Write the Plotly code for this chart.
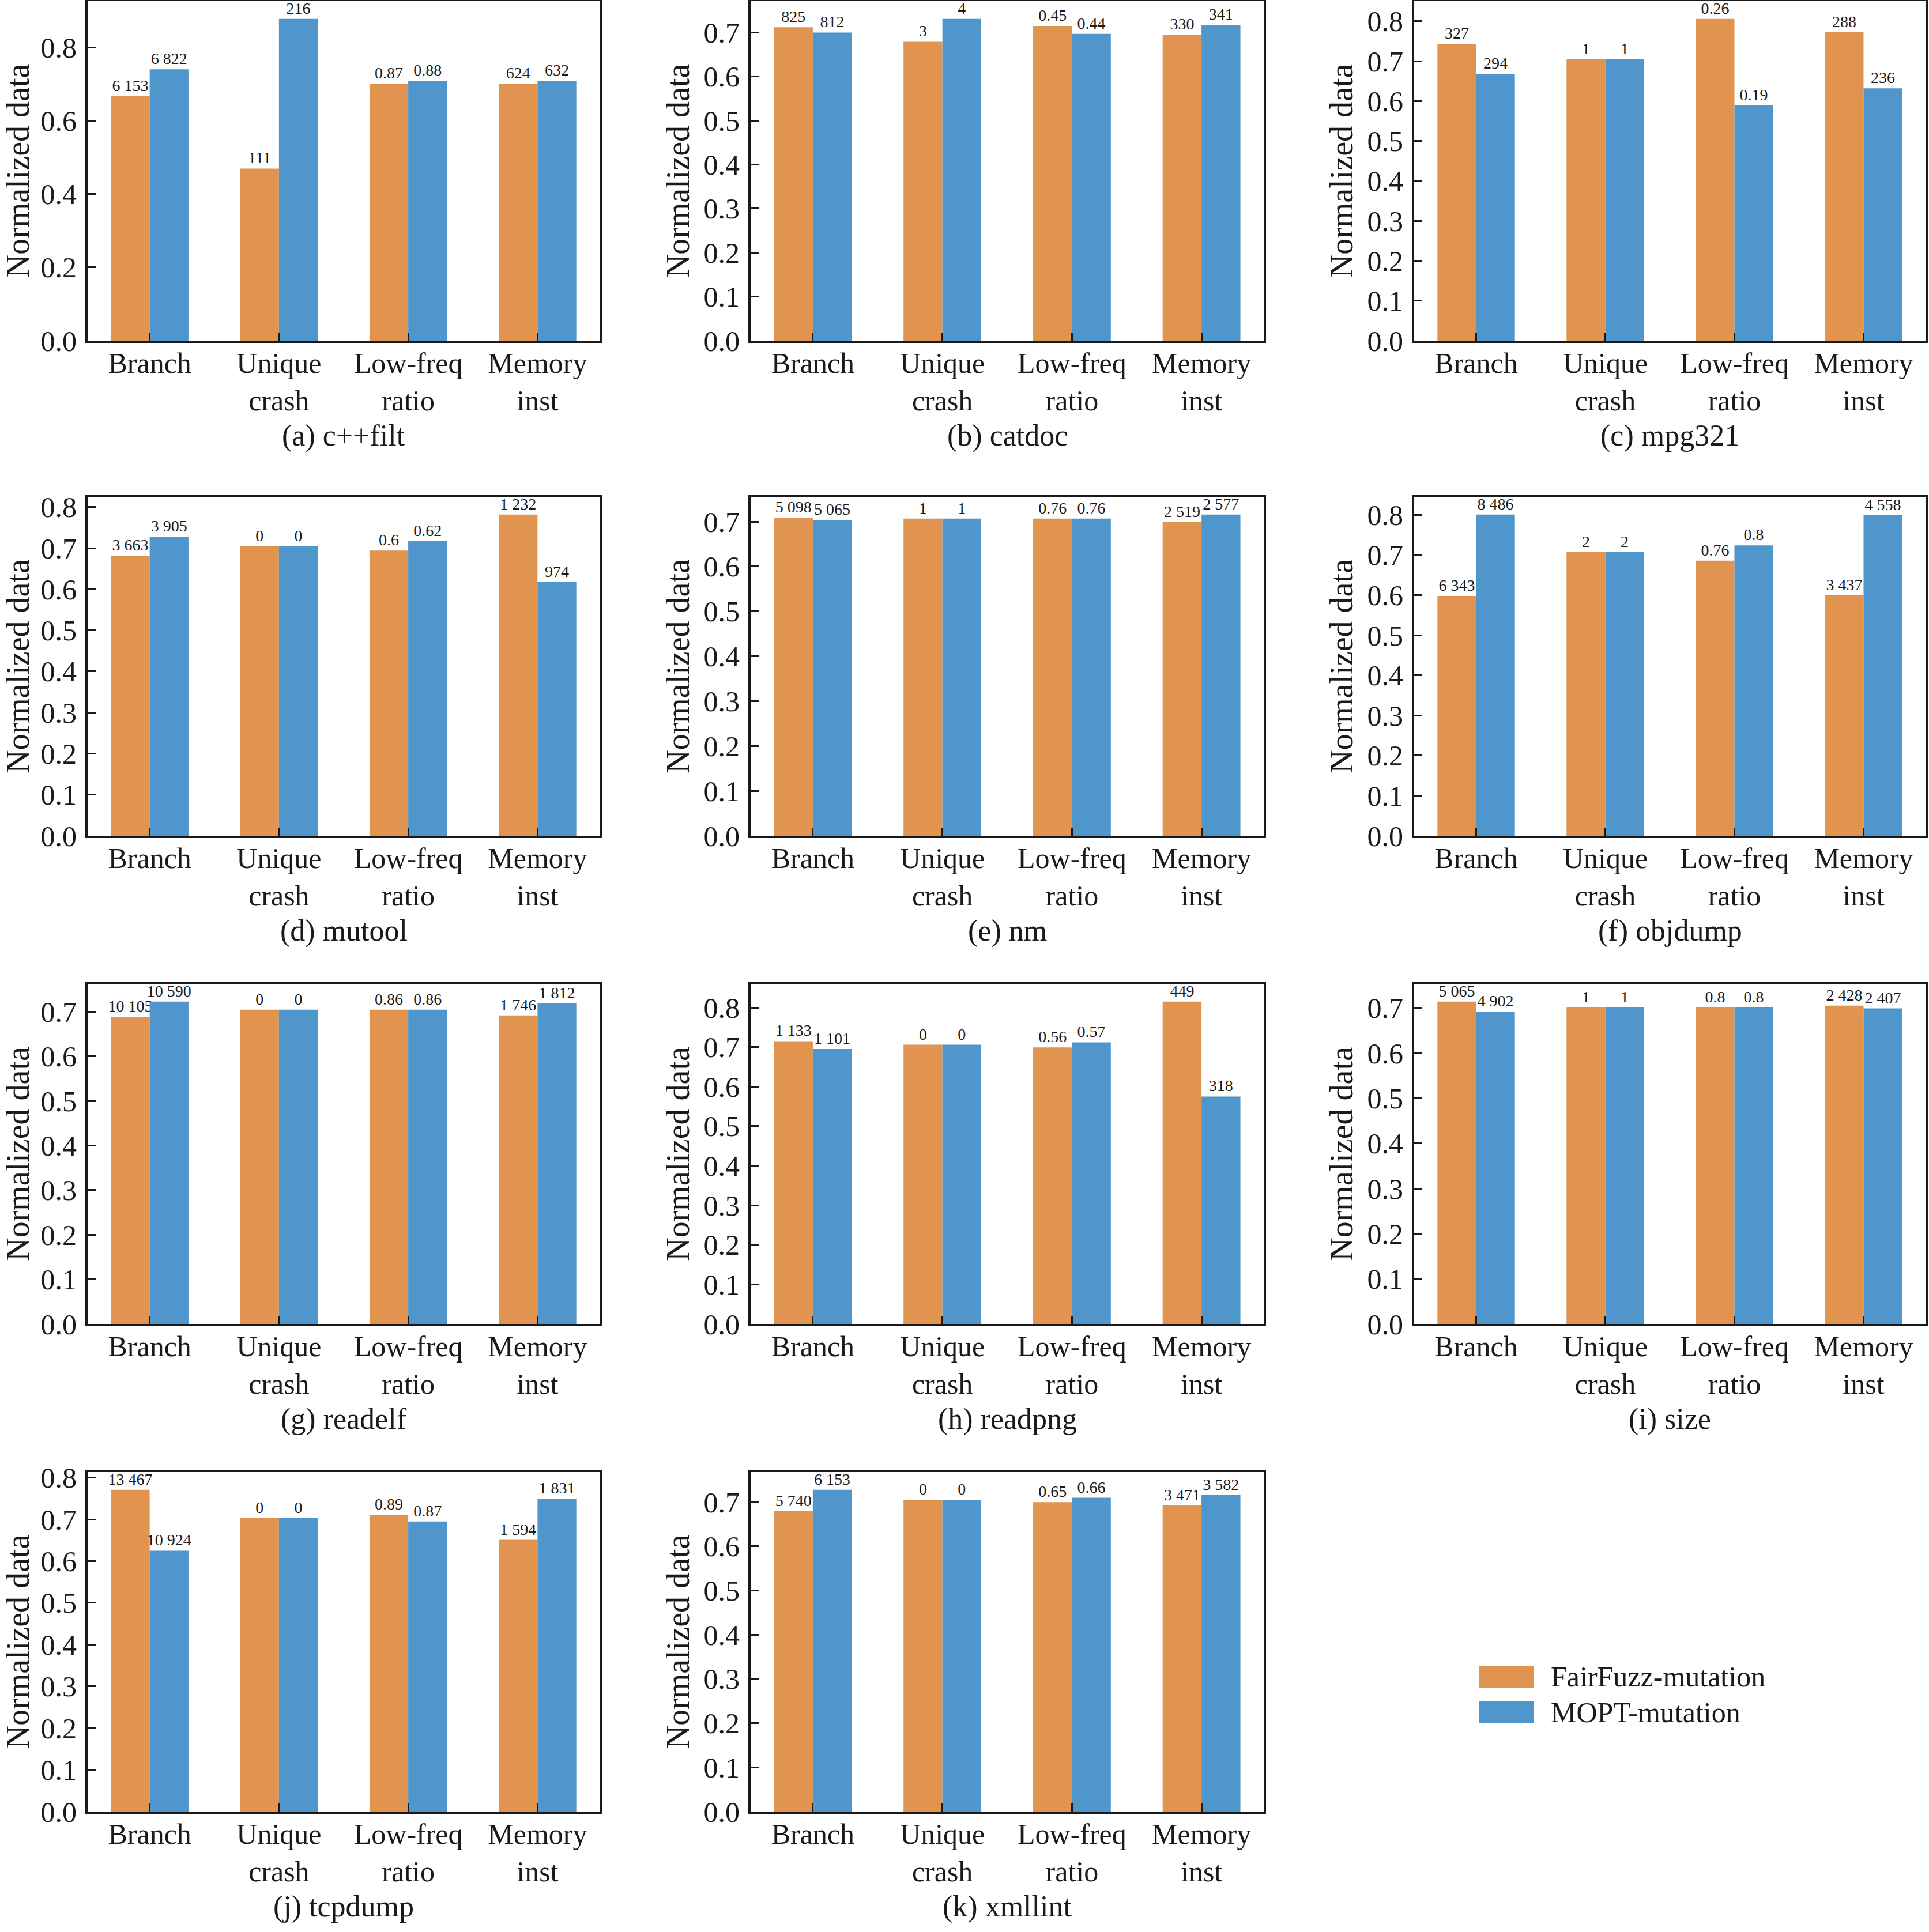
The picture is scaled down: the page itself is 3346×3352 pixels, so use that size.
import plotly.graph_objects as go

W, H = 3346, 3352

categories = ["Branch", "Unique<br>crash", "Low-freq<br>ratio", "Memory<br>inst"]
series_names = ["FairFuzz-mutation", "MOPT-mutation"]
captions = ["(a) c++filt", "(b) catdoc", "(c) mpg321", "(d) mutool", "(e) nm",
            "(f) objdump", "(g) readelf", "(h) readpng", "(i) size",
            "(j) tcpdump", "(k) xmllint"]

# normalized bar heights
fair_norm = [
    [0.668, 0.470, 0.702, 0.702],
    [0.712, 0.679, 0.715, 0.695],
    [0.743, 0.705, 0.806, 0.773],
    [0.682, 0.705, 0.694, 0.782],
    [0.709, 0.707, 0.707, 0.699],
    [0.598, 0.707, 0.686, 0.600],
    [0.689, 0.705, 0.705, 0.692],
    [0.715, 0.706, 0.699, 0.815],
    [0.714, 0.701, 0.701, 0.705],
    [0.771, 0.703, 0.711, 0.651],
    [0.680, 0.705, 0.700, 0.693],
]
mopt_norm = [
    [0.741, 0.879, 0.710, 0.710],
    [0.700, 0.731, 0.697, 0.717],
    [0.668, 0.705, 0.589, 0.632],
    [0.728, 0.705, 0.717, 0.618],
    [0.704, 0.707, 0.707, 0.716],
    [0.801, 0.707, 0.724, 0.799],
    [0.723, 0.705, 0.705, 0.719],
    [0.695, 0.706, 0.712, 0.575],
    [0.692, 0.701, 0.701, 0.699],
    [0.625, 0.703, 0.695, 0.750],
    [0.728, 0.705, 0.710, 0.716],
]

# raw values printed above the bars
fair_raw = [
    [6153, 111, 0.87, 624],
    [825, 3, 0.45, 330],
    [327, 1, 0.26, 288],
    [3663, 0, 0.6, 1232],
    [5098, 1, 0.76, 2519],
    [6343, 2, 0.76, 3437],
    [10105, 0, 0.86, 1746],
    [1133, 0, 0.56, 449],
    [5065, 1, 0.8, 2428],
    [13467, 0, 0.89, 1594],
    [5740, 0, 0.65, 3471],
]
mopt_raw = [
    [6822, 216, 0.88, 632],
    [812, 4, 0.44, 341],
    [294, 1, 0.19, 236],
    [3905, 0, 0.62, 974],
    [5065, 1, 0.76, 2577],
    [8486, 2, 0.8, 4558],
    [10590, 0, 0.86, 1812],
    [1101, 0, 0.57, 318],
    [4902, 1, 0.8, 2407],
    [10924, 0, 0.87, 1831],
    [6153, 0, 0.66, 3582],
]

y_dticks = [0.2, 0.1, 0.1, 0.1, 0.1, 0.1, 0.1, 0.1, 0.1, 0.1, 0.1]

ORANGE = "#E1944F"
BLUE = "#4E96CC"
FONT = "Liberation Serif, Times New Roman, serif"
INK = "#1a1a1a"

# plot-area boxes in pixels
col_px = [(152, 1040), (1302, 2192), (2453, 3340)]
row_px = [(2, 591), (862, 1450), (1707, 2297), (2554, 3143)]


def px_x(p):
    return min(1.0, max(0.0, p / W))


def px_y(p):
    return min(1.0, max(0.0, 1 - p / H))


def fmt(v):
    if isinstance(v, int):
        return f"{v:,}".replace(",", " ")
    return str(v)


fig = go.Figure()
layout = dict(
    width=W, height=H,
    margin=dict(l=0, r=0, t=0, b=0, pad=0),
    paper_bgcolor="white", plot_bgcolor="white",
    barmode="group", bargap=0.4, bargroupgap=0,
    showlegend=False,
    font=dict(family=FONT, color=INK),
)
annotations = []
shapes = []

for i in range(len(captions)):
    r, c = divmod(i, 3)
    n = "" if i == 0 else str(i + 1)
    xa, ya = "x" + n, "y" + n
    x0, x1 = px_x(col_px[c][0]), px_x(col_px[c][1])
    y0, y1 = px_y(row_px[r][1]), px_y(row_px[r][0])

    for vals, raw, color, name in ((fair_norm[i], fair_raw[i], ORANGE, series_names[0]),
                                    (mopt_norm[i], mopt_raw[i], BLUE, series_names[1])):
        fig.add_trace(go.Bar(
            x=categories, y=vals, name=name,
            text=[fmt(v) for v in raw], textposition="outside", textangle=0,
            constraintext="none", cliponaxis=False,
            textfont=dict(family=FONT, size=28, color=INK),
            marker=dict(color=color, line=dict(width=0)),
            xaxis=xa, yaxis=ya,
        ))

    ymax = max(max(fair_norm[i]), max(mopt_norm[i])) * 1.055
    layout["xaxis" + n] = dict(
        domain=[x0, x1], anchor=ya, range=[-0.48, 3.48], automargin=False,
        showline=True, linecolor=INK, linewidth=4, mirror=True,
        ticks="inside", ticklen=14, tickwidth=3, tickcolor=INK,
        tickfont=dict(family=FONT, size=50, color=INK), ticklabelstandoff=-8,
        showgrid=False, zeroline=False,
    )
    layout["yaxis" + n] = dict(
        domain=[y0, y1], anchor=xa, range=[0, ymax], automargin=False,
        dtick=y_dticks[i], tick0=0, tickformat=".1f",
        showline=True, linecolor=INK, linewidth=4, mirror=True,
        ticks="inside", ticklen=14, tickwidth=3, tickcolor=INK,
        tickfont=dict(family=FONT, size=50, color=INK), ticklabelstandoff=5,
        showgrid=False, zeroline=False,
        title=dict(text="Normalized data", font=dict(family=FONT, size=56, color=INK),
                   standoff=8),
    )
    annotations.append(dict(
        text=captions[i], xref="paper", yref="paper",
        x=(x0 + x1) / 2, y=y0, xanchor="center", yanchor="middle",
        yshift=-165, showarrow=False,
        font=dict(family=FONT, size=52, color=INK),
    ))

# legend drawn in the empty last cell
legend_rows = [(2890, 2928, ORANGE, series_names[0]), (2952, 2990, BLUE, series_names[1])]
for top, bot, color, name in legend_rows:
    shapes.append(dict(type="rect", xref="paper", yref="paper",
                       x0=px_x(2565), x1=px_x(2660), y0=px_y(bot), y1=px_y(top),
                       fillcolor=color, line=dict(width=0)))
    annotations.append(dict(text=name, xref="paper", yref="paper",
                            x=px_x(2688), y=px_y((top + bot) / 2),
                            xanchor="left", yanchor="middle", showarrow=False,
                            font=dict(family=FONT, size=50, color=INK)))

layout["annotations"] = annotations
layout["shapes"] = shapes
fig.update_layout(**layout)

# drop the page's default body margin so the figure sits at the window corner
fig.write_html("out.html", config={"displayModeBar": False},
               post_script="document.body.style.margin = '0';")
